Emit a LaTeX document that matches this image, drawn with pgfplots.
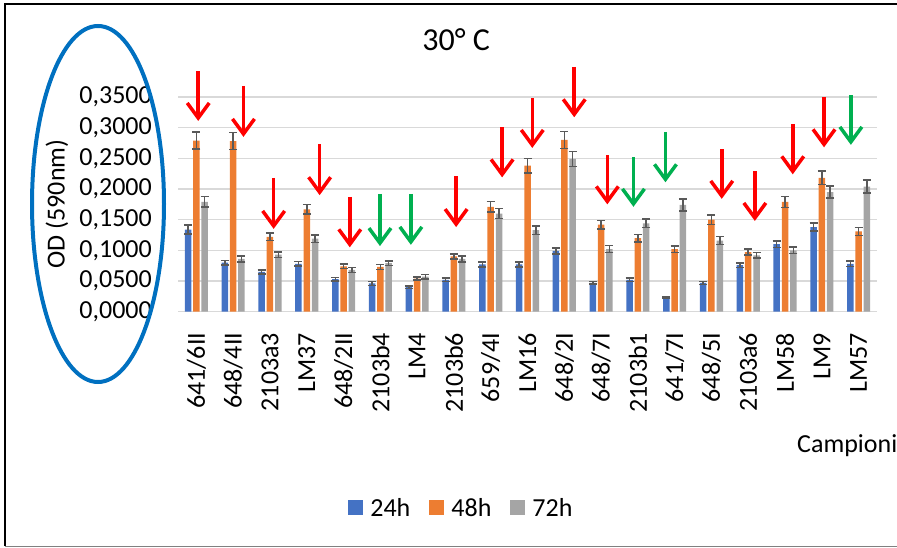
\documentclass[border=0pt]{standalone}
\usepackage{pgfplots}
\pgfplotsset{compat=1.18}
\usepackage{pgfplotstable}
\usepackage{fontspec}
\setmainfont{Carlito}
\usetikzlibrary{arrows.meta}
\definecolor{c24}{HTML}{4472C4}
\definecolor{c48}{HTML}{ED7D31}
\definecolor{c72}{HTML}{A5A5A5}
\definecolor{errc}{HTML}{595959}
\definecolor{gridc}{HTML}{D9D9D9}
\definecolor{arred}{HTML}{FF0000}
\definecolor{argreen}{HTML}{00B050}
\definecolor{ovalc}{HTML}{0070C0}

\pgfplotstableread{
x y e
0 0.134 0.0070
1 0.080 0.0038
2 0.065 0.0033
3 0.078 0.0038
4 0.053 0.0027
5 0.046 0.0030
6 0.040 0.0022
7 0.052 0.0030
8 0.077 0.0038
9 0.077 0.0038
10 0.099 0.0046
11 0.047 0.0022
12 0.052 0.0030
13 0.023 0.0010
14 0.047 0.0024
15 0.076 0.0038
16 0.110 0.0054
17 0.138 0.0068
18 0.078 0.0043
}\tabA
\pgfplotstableread{
x y e
0 0.279 0.0138
1 0.278 0.0138
2 0.122 0.0060
3 0.167 0.0081
4 0.074 0.0038
5 0.073 0.0038
6 0.054 0.0027
7 0.090 0.0038
8 0.171 0.0087
9 0.238 0.0120
10 0.280 0.0136
11 0.142 0.0070
12 0.120 0.0062
13 0.102 0.0054
14 0.150 0.0076
15 0.097 0.0049
16 0.179 0.0090
17 0.218 0.0110
18 0.131 0.0065
}\tabB
\pgfplotstableread{
x y e
0 0.179 0.0087
1 0.086 0.0046
2 0.093 0.0046
3 0.119 0.0060
4 0.068 0.0038
5 0.079 0.0040
6 0.057 0.0035
7 0.086 0.0046
8 0.160 0.0079
9 0.133 0.0068
10 0.249 0.0122
11 0.102 0.0057
12 0.144 0.0070
13 0.174 0.0098
14 0.116 0.0062
15 0.092 0.0046
16 0.100 0.0052
17 0.195 0.0098
18 0.204 0.0103
}\tabC

\tikzset{
  redarr/.style={draw=arred, line width=3.5pt, -{Straight Barb[length=15pt,width=22pt]}},
  greenarr/.style={draw=argreen, line width=3.5pt, -{Straight Barb[length=15pt,width=22pt]}},
}
\pgfplotsset{
  errs/.style={error bars/.cd, y dir=both, y explicit,
    error bar style={color=errc, line width=1.5pt},
    error mark options={rotate=90, mark size=4pt, line width=1.5pt, color=errc}},
}

\begin{document}
\begin{tikzpicture}
\begin{axis}[
  at={(178pt,-311.7pt)}, anchor=south west,
  scale only axis, width=699pt, height=214.7pt,
  xmin=-0.5, xmax=18.5, ymin=0, ymax=0.35,
  ybar=1.8pt, bar width=6.5pt,
  clip=false,
  axis line style={draw=none},
  major tick length=0pt,
  ymajorgrids, major grid style={color=gridc, line width=1.4pt},
  ytick={0,0.05,...,0.351},
  scaled y ticks=false,
  yticklabel style={anchor=east, inner sep=0pt, xshift=-26pt, /pgf/number format/.cd, fixed, fixed zerofill, precision=4, use comma, assume math mode=true},
  xtick={0,...,18},
  xticklabels={641/6II,648/4II,2103a3,LM37,648/2II,2103b4,LM4,2103b6,659/4I,LM16,648/2I,648/7I,2103b1,641/7I,648/5I,2103a6,LM58,LM9,LM57},
  xticklabel style={yshift=-21pt, rotate=90, anchor=east, inner sep=0pt},
  tick label style={font=\fontsize{26}{30}\selectfont},
  title={30° C},
  title style={at={(axis description cs:0.398,1.2375)}, anchor=center, inner sep=0pt, font=\fontsize{32}{38}\selectfont},
  ylabel={OD (590nm)},
  ylabel style={at={(axis description cs:-0.1731,0.5016)}, anchor=center, inner sep=0pt, font=\fontsize{26}{30}\selectfont},
  xlabel={Campioni},
  xlabel style={at={(axis description cs:0.8856,-0.658)}, anchor=base west, inner sep=0pt, font=\fontsize{26}{30}\selectfont},
  legend style={at={(axis description cs:0.404,-0.914)}, anchor=center, draw=none, fill=none,
    font=\fontsize{26}{30}\selectfont, legend columns=-1,
    nodes={inner sep=0pt},
    /tikz/every odd column/.append style={column sep=7pt},
    /tikz/every even column/.append style={column sep=19pt}},
  legend image code/.code={\fill[#1] (0pt,-7.5pt) rectangle (15pt,7.5pt);},
]
\addplot[fill=c24, draw=none, errs] table[x=x, y=y, y error=e] {\tabA};
\addplot[fill=c48, draw=none, errs] table[x=x, y=y, y error=e] {\tabB};
\addplot[fill=c72, draw=none, errs] table[x=x, y=y, y error=e] {\tabC};
\legend{24h,48h,72h}
\draw[redarr] (axis cs:0.05,0.392) -- (axis cs:0.05,0.311);
\draw[redarr] (axis cs:1.28,0.368) -- (axis cs:1.28,0.285);
\draw[redarr] (axis cs:2.10,0.218) -- (axis cs:2.10,0.135);
\draw[redarr] (axis cs:3.35,0.273) -- (axis cs:3.35,0.190);
\draw[redarr] (axis cs:4.17,0.187) -- (axis cs:4.17,0.105);
\draw[greenarr] (axis cs:4.99,0.192) -- (axis cs:4.99,0.107);
\draw[greenarr] (axis cs:5.83,0.192) -- (axis cs:5.83,0.109);
\draw[redarr] (axis cs:7.06,0.221) -- (axis cs:7.06,0.138);
\draw[redarr] (axis cs:8.31,0.301) -- (axis cs:8.31,0.219);
\draw[redarr] (axis cs:9.13,0.348) -- (axis cs:9.13,0.267);
\draw[redarr] (axis cs:10.27,0.399) -- (axis cs:10.27,0.317);
\draw[redarr] (axis cs:11.17,0.255) -- (axis cs:11.17,0.175);
\draw[greenarr] (axis cs:11.88,0.252) -- (axis cs:11.88,0.171);
\draw[greenarr] (axis cs:12.75,0.293) -- (axis cs:12.75,0.211);
\draw[redarr] (axis cs:14.28,0.265) -- (axis cs:14.28,0.184);
\draw[redarr] (axis cs:15.18,0.229) -- (axis cs:15.18,0.148);
\draw[redarr] (axis cs:16.21,0.306) -- (axis cs:16.21,0.224);
\draw[redarr] (axis cs:17.06,0.350) -- (axis cs:17.06,0.268);
\draw[greenarr] (axis cs:17.79,0.353) -- (axis cs:17.79,0.272);
\end{axis}
\draw[ovalc, line width=4pt] (98pt,-204pt) ellipse [x radius=66pt, y radius=178pt];
\draw[black, line width=2pt] (5pt,-546pt) -- (5pt,-4pt) -- (897pt,-4pt);
\draw[gray, line width=1.5pt] (5pt,-546.5pt) -- (897pt,-546.5pt);
\pgfresetboundingbox
\path (0pt,0pt) rectangle (897pt,-548pt);
\end{tikzpicture}
\end{document}
